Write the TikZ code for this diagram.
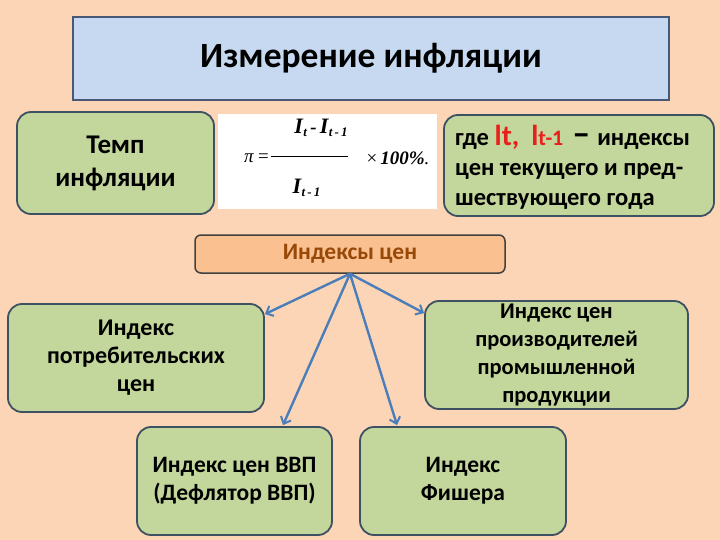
\documentclass[tikz,border=0pt]{standalone}
\usepackage{fontspec}
\setmainfont{Carlito}
\newfontfamily\formfont{Liberation Serif}
\usetikzlibrary{arrows.meta,calc}
\definecolor{bgc}{HTML}{FBD5B5}
\definecolor{titlefill}{HTML}{C6D9F1}
\definecolor{titledraw}{HTML}{4A5878}
\definecolor{greenfill}{HTML}{C3D69B}
\definecolor{greendraw}{HTML}{3E5163}
\definecolor{orangefill}{HTML}{FAC090}
\definecolor{orangetext}{HTML}{984807}
\definecolor{arrowc}{HTML}{4A7EBB}
\definecolor{redtext}{HTML}{E8201C}
\newcommand{\Isb}[1]{{\fontsize{22}{22}\selectfont I}\kern0.5pt{\fontsize{13}{13}\selectfont\raisebox{-3pt}{#1}}}
\begin{document}
\begin{tikzpicture}[x=1pt,y=-1pt,
  greenbox/.style={draw=greendraw,line width=1.8pt,fill=greenfill,rounded corners=14pt,
    align=center,font=\fontsize{24}{28}\selectfont\bfseries,inner sep=0pt},
  arr/.style={draw=arrowc,line width=2.4pt,-{Straight Barb[length=6pt,width=11pt,line width=2pt]}},
  ftext/.style={inner sep=0pt,font=\formfont\bfseries\itshape\fontsize{19}{19}\selectfont}]
\fill[bgc] (0,0) rectangle (720,540);
\useasboundingbox (0,0) rectangle (720,540);
% title
\node[draw=titledraw,line width=1.5pt,fill=titlefill,minimum width=596pt,minimum height=83pt,inner sep=0pt,
  font=\bfseries\fontsize{35.5}{40}\selectfont] (title) at (371,58.5) {Измерение инфляции};
% temp
\node[greenbox,minimum width=197pt,minimum height=102pt,font=\fontsize{27}{33}\selectfont\bfseries] (temp) at (115.5,163) {Темп\\инфляции};
% formula box
\node[fill=white,minimum width=219pt,minimum height=95pt,inner sep=0pt] (formula) at (327.5,161.5) {};
\node[ftext] (num) at (321,128) {\Isb{t}\,-\,\Isb{t\,-\,1}};
\node[ftext,font=\formfont\itshape\fontsize{19}{19}\selectfont] (pi) at (257,158) {π\,=};
\draw[line width=0.7pt] (271,156) -- (348,156);
\node[ftext] (pct) at (398,158) {{\mdseries\upshape×}\,100\%{\mdseries.}};
\node[ftext] (den) at (306.5,188) {\Isb{t\,-\,1}};
% where box
\node[greenbox,minimum width=270pt,minimum height=101pt] (where) at (579,165.5) {};
\node[anchor=west,inner sep=0pt,align=left,font=\fontsize{24.5}{30}\selectfont\bfseries] (wtext) at (455,167)
  {где {\color{redtext}\fontsize{29}{29}\selectfont lt,\hspace{12pt}l{\fontsize{22}{22}\selectfont t-1}}\hspace{9pt}{\fontsize{36}{36}\selectfont –}\hspace{7pt}индексы\\цен текущего и пред-\\шествующего года};
% indexes
\node[draw=black!75,line width=1.5pt,fill=orangefill,rounded corners=6pt,minimum width=310pt,minimum height=38pt,inner sep=0pt,
  text=orangetext,font=\fontsize{23.5}{26}\selectfont\bfseries] (idx) at (350,254) {Индексы цен};
% lower boxes
\node[greenbox,minimum width=256pt,minimum height=108pt] (cpi) at (136,358) {Индекс\\потребительских\\цен};
\node[greenbox,minimum width=263pt,minimum height=108pt,font=\fontsize{22.5}{28}\selectfont\bfseries] (ppi) at (556.5,355) {Индекс цен\\производителей\\промышленной\\продукции};
\node[greenbox,minimum width=195pt,minimum height=108pt,font=\fontsize{23.5}{28}\selectfont\bfseries] (vvp) at (234.5,481) {Индекс цен ВВП\\(Дефлятор ВВП)};
\node[greenbox,minimum width=206pt,minimum height=108pt,font=\fontsize{23.5}{28}\selectfont\bfseries] (fisher) at (463,481) {Индекс\\Фишера};
% arrows
\draw[arr] (idx.south) -- ([yshift=-11pt]cpi.north east);
\draw[arr] (idx.south) -- ([yshift=-13pt]ppi.north west);
\draw[arr] (idx.south) -- ([xshift=48.5pt,yshift=1pt]vvp.north);
\draw[arr] (idx.south) -- ([xshift=-66pt,yshift=1pt]fisher.north);
\end{tikzpicture}
\end{document}
